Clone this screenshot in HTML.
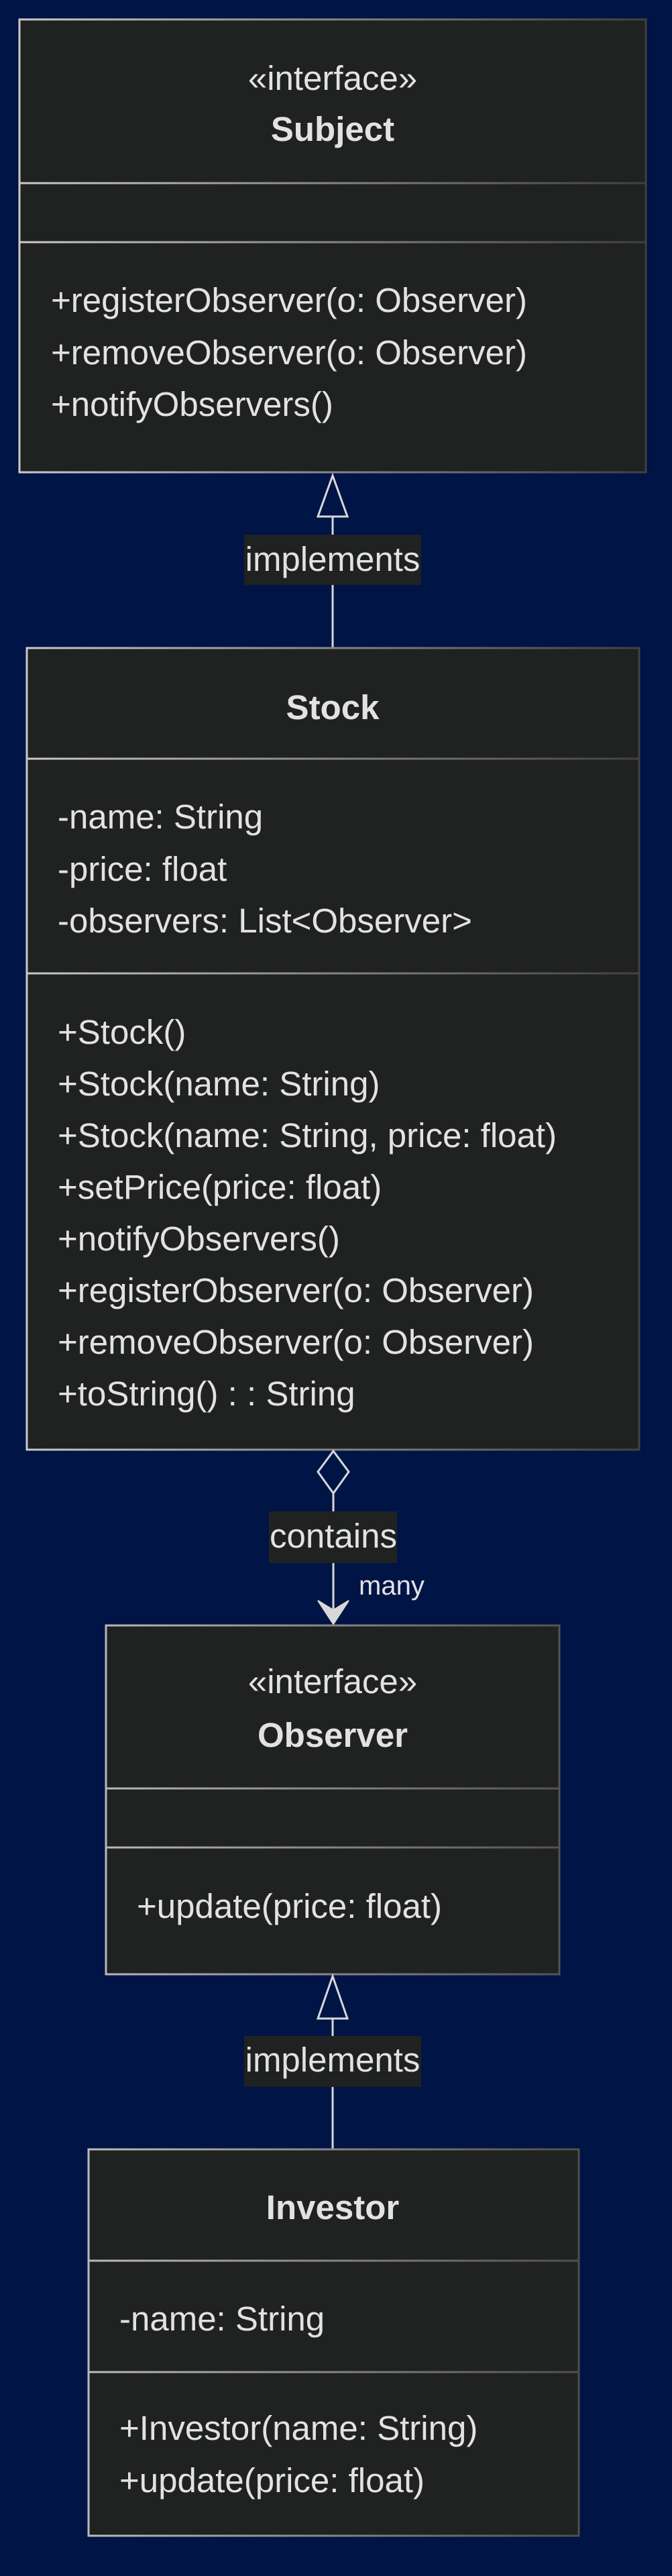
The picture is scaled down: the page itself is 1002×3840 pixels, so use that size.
<!DOCTYPE html>
<html><head><meta charset="utf-8"><style>
html,body{margin:0;padding:0;background:#001446;}
svg{display:block}
text{font-family:"Liberation Sans",Arial,sans-serif;fill:#e2e2e2;}
</style></head><body>
<svg width="1002" height="3840" viewBox="0 0 1002 3840" xmlns="http://www.w3.org/2000/svg">
<defs>
<linearGradient id="g" gradientUnits="userSpaceOnUse" x1="0" y1="0" x2="1002" y2="0">
<stop offset="0" stop-color="#d0d0d0"/><stop offset="1" stop-color="#3a3a3a"/>
</linearGradient>
</defs>
<rect width="1002" height="3840" fill="#001446"/>

<!-- Subject -->
<rect x="29" y="29" width="934" height="675" fill="#202121" stroke="url(#g)" stroke-width="3"/>
<line x1="29" y1="273" x2="963" y2="273" stroke="url(#g)" stroke-width="3"/>
<line x1="29" y1="361" x2="963" y2="361" stroke="url(#g)" stroke-width="3"/>
<text x="496" y="134" font-size="51" text-anchor="middle">«interface»</text>
<text x="496" y="210" font-size="51" font-weight="bold" text-anchor="middle">Subject</text>
<text x="76" y="465" font-size="51">+registerObserver(o: Observer)</text>
<text x="76" y="543" font-size="51">+removeObserver(o: Observer)</text>
<text x="76" y="620" font-size="51">+notifyObservers()</text>

<!-- implements 1 -->
<line x1="496" y1="770" x2="496" y2="966" stroke="#d8d8d8" stroke-width="3"/>
<polygon points="496,709 474,770 518,770" fill="#001446" stroke="#d8d8d8" stroke-width="3"/>
<rect x="364" y="797" width="264" height="75" fill="#202121"/>
<text x="496" y="851" font-size="51" text-anchor="middle">implements</text>

<!-- Stock -->
<rect x="40" y="966" width="913" height="1195" fill="#202121" stroke="url(#g)" stroke-width="3"/>
<line x1="40" y1="1131" x2="953" y2="1131" stroke="url(#g)" stroke-width="3"/>
<line x1="40" y1="1451" x2="953" y2="1451" stroke="url(#g)" stroke-width="3"/>
<text x="496" y="1072" font-size="51" font-weight="bold" text-anchor="middle">Stock</text>
<text x="86" y="1235" font-size="51">-name: String</text>
<text x="86" y="1313" font-size="51">-price: float</text>
<text x="86" y="1390" font-size="51">-observers: List&lt;Observer&gt;</text>
<text x="86" y="1556" font-size="51">+Stock()</text>
<text x="86" y="1633" font-size="51">+Stock(name: String)</text>
<text x="86" y="1710" font-size="51">+Stock(name: String, price: float)</text>
<text x="86" y="1787" font-size="51">+setPrice(price: float)</text>
<text x="86" y="1864" font-size="51">+notifyObservers()</text>
<text x="86" y="1941" font-size="51">+registerObserver(o: Observer)</text>
<text x="86" y="2018" font-size="51">+removeObserver(o: Observer)</text>
<text x="86" y="2095" font-size="51">+toString() : : String</text>

<!-- contains -->
<line x1="497" y1="2226" x2="497" y2="2410" stroke="#d8d8d8" stroke-width="3"/>
<polygon points="497,2163 520,2194 497,2226 474,2194" fill="#001446" stroke="#d8d8d8" stroke-width="3"/>
<polygon points="497,2421 474,2386 497,2400 520,2386" fill="#d8d8d8" stroke="#d8d8d8" stroke-width="2"/>
<rect x="401" y="2253" width="191" height="77" fill="#202121"/>
<text x="497" y="2307" font-size="51" text-anchor="middle">contains</text>
<text x="535" y="2377" font-size="40">many</text>

<!-- Observer -->
<rect x="158" y="2423" width="676" height="520" fill="#202121" stroke="url(#g)" stroke-width="3"/>
<line x1="158" y1="2666" x2="834" y2="2666" stroke="url(#g)" stroke-width="3"/>
<line x1="158" y1="2754" x2="834" y2="2754" stroke="url(#g)" stroke-width="3"/>
<text x="496" y="2524" font-size="51" text-anchor="middle">«interface»</text>
<text x="496" y="2604" font-size="51" font-weight="bold" text-anchor="middle">Observer</text>
<text x="204" y="2859" font-size="51">+update(price: float)</text>

<!-- implements 2 -->
<line x1="496" y1="3009" x2="496" y2="3204" stroke="#d8d8d8" stroke-width="3"/>
<polygon points="496,2946 474,3009 518,3009" fill="#001446" stroke="#d8d8d8" stroke-width="3"/>
<rect x="364" y="3035" width="264" height="76" fill="#202121"/>
<text x="496" y="3088" font-size="51" text-anchor="middle">implements</text>

<!-- Investor -->
<rect x="132" y="3204" width="731" height="576" fill="#202121" stroke="url(#g)" stroke-width="3"/>
<line x1="132" y1="3370" x2="863" y2="3370" stroke="url(#g)" stroke-width="3"/>
<line x1="132" y1="3536" x2="863" y2="3536" stroke="url(#g)" stroke-width="3"/>
<text x="496" y="3308" font-size="51" font-weight="bold" text-anchor="middle">Investor</text>
<text x="178" y="3474" font-size="51">-name: String</text>
<text x="178" y="3637" font-size="51">+Investor(name: String)</text>
<text x="178" y="3715" font-size="51">+update(price: float)</text>
</svg>
</body></html>
